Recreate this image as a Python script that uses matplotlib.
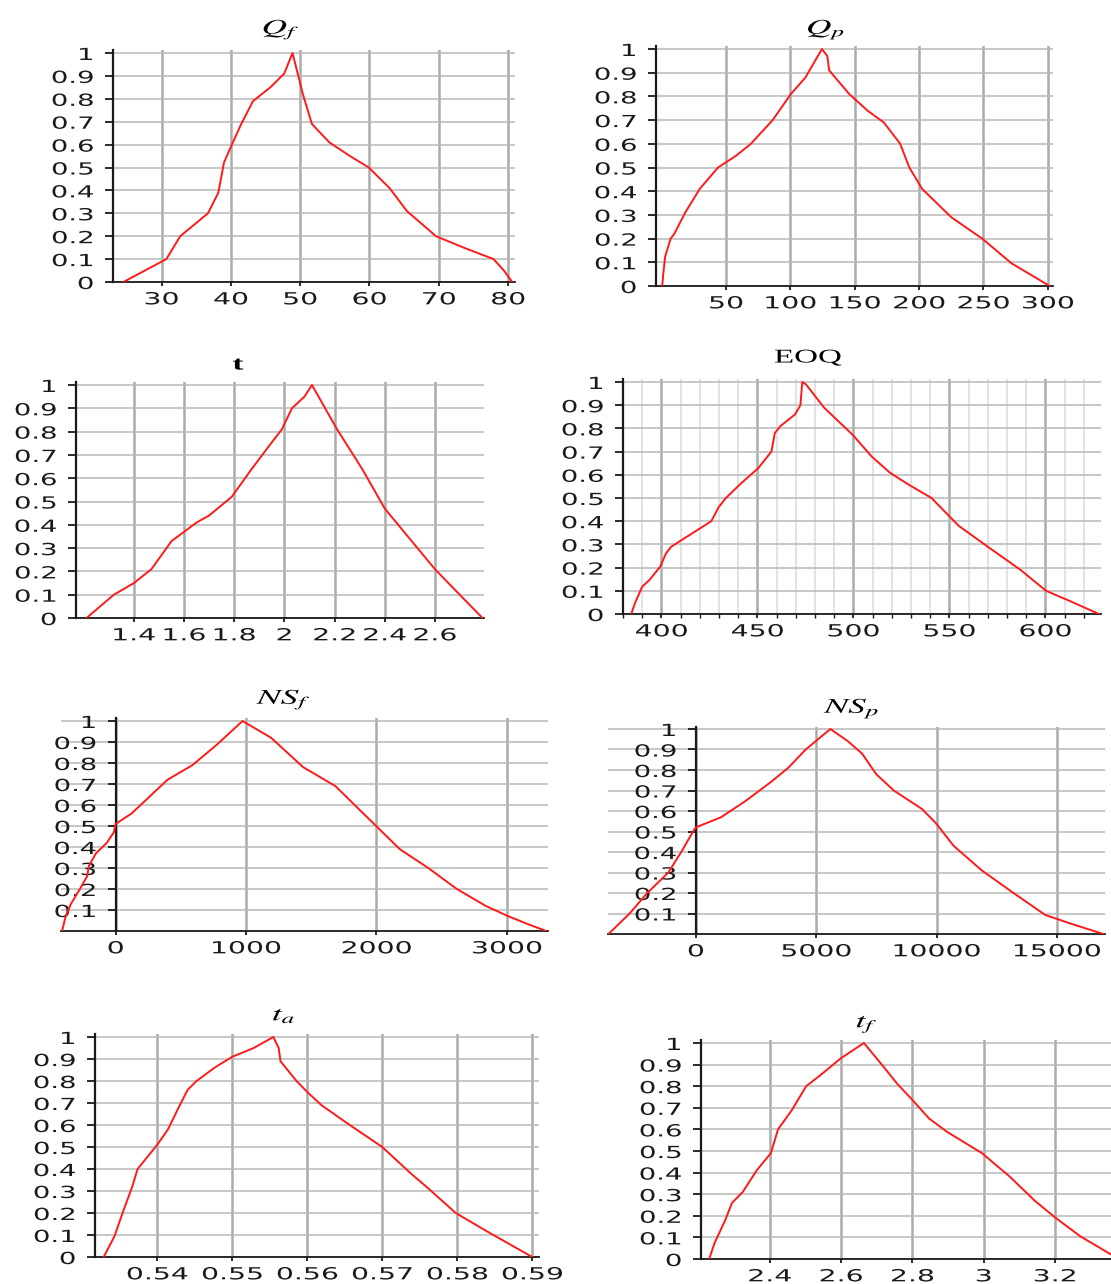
import matplotlib
matplotlib.use("Agg")
import matplotlib.pyplot as plt
from matplotlib.ticker import MultipleLocator
from matplotlib.patheffects import AbstractPathEffect
from matplotlib.transforms import Affine2D

plt.rcParams['font.family'] = ['DejaVu Sans']
plt.rcParams['mathtext.fontset'] = 'stix'

W, H = 1111, 1284

# ---- data (membership curves) ----
qf_x = [24.5, 30.7, 32.7, 36.7, 38.2, 39.0, 40.0, 41.5, 43.2, 45.7, 47.7, 48.9,
        49.9, 50.4, 51.7, 54.2, 57.2, 59.9, 62.9, 65.4, 69.6, 73.6, 77.9, 79.4, 80.6]
qf_y = [0, 0.10, 0.20, 0.30, 0.39, 0.52, 0.59, 0.69, 0.79, 0.85, 0.91, 1.0,
        0.88, 0.82, 0.69, 0.61, 0.55, 0.50, 0.41, 0.31, 0.20, 0.15, 0.10, 0.05, 0]

qp_x = [0.4, 1.3, 2.7, 7.0, 9.8, 18.3, 29.6, 43.8, 57.9, 69.3, 86.2, 100.4, 111.7,
        124.5, 128.7, 130.1, 145.7, 159.9, 172.6, 185.3, 192.4, 202.3, 225.0, 249.0,
        271.7, 301.4]
qp_y = [0, 0.054, 0.124, 0.20, 0.22, 0.31, 0.41, 0.50, 0.55, 0.60, 0.70, 0.81, 0.88,
        1.0, 0.97, 0.91, 0.81, 0.74, 0.69, 0.60, 0.50, 0.41, 0.29, 0.20, 0.096, 0]

t_x = [1.211, 1.32, 1.40, 1.47, 1.55, 1.65, 1.70, 1.79, 1.87, 1.94, 1.99, 2.03,
       2.08, 2.11, 2.21, 2.31, 2.40, 2.50, 2.60, 2.69, 2.79]
t_y = [0, 0.10, 0.15, 0.21, 0.33, 0.41, 0.44, 0.52, 0.64, 0.74, 0.81, 0.90,
       0.95, 1.0, 0.81, 0.64, 0.47, 0.34, 0.21, 0.11, 0]

eoq_x = [384.3, 386.2, 390.0, 393.7, 399.4, 402.3, 405.1, 410.8, 418.4, 426.0, 429.8,
         433.6, 441.1, 450.6, 457.3, 459.1, 462.0, 469.6, 472.4, 473.4, 475.3, 484.7,
         499.9, 509.4, 518.9, 528.3, 540.7, 554.9, 570.0, 587.1, 600.4, 613.6, 627.9]
eoq_y = [0, 0.046, 0.118, 0.146, 0.204, 0.26, 0.29, 0.32, 0.36, 0.40, 0.46,
         0.50, 0.56, 0.63, 0.70, 0.78, 0.81, 0.86, 0.90, 1.0, 0.99, 0.89,
         0.77, 0.68, 0.61, 0.56, 0.50, 0.38, 0.29, 0.19, 0.10, 0.053, 0]

nsf_x = [-411, -384, -342, -274, -219, -205, -151, -68, -14, 0, 123, 260, 397, 589,
         781, 973, 1192, 1438, 1685, 1849, 2014, 2178, 2397, 2616, 2836, 3000, 3164, 3301]
nsf_y = [0, 0.068, 0.13, 0.20, 0.26, 0.31, 0.37, 0.42, 0.47, 0.51, 0.56, 0.64, 0.72, 0.79,
         0.89, 1.0, 0.92, 0.78, 0.69, 0.59, 0.49, 0.39, 0.30, 0.20, 0.12, 0.073, 0.032, 0]

nsp_x = [-3629, -2751, -2019, -1141, -556, -117, 0, 1054, 2078, 3102, 3834, 4565, 5590,
         6322, 6907, 7492, 8224, 9394, 9979, 10711, 11882, 13199, 14516, 15541, 16930]
nsp_y = [0, 0.10, 0.20, 0.30, 0.41, 0.50, 0.52, 0.57, 0.65, 0.74, 0.81, 0.90, 1.0,
         0.94, 0.88, 0.78, 0.70, 0.61, 0.54, 0.43, 0.31, 0.20, 0.093, 0.052, 0]

ta_x = [0.53286, 0.53429, 0.53548, 0.53667, 0.53738, 0.5400, 0.54143, 0.54286, 0.54405,
        0.54524, 0.54762, 0.5500, 0.55286, 0.55548, 0.55619, 0.55643, 0.55857, 0.5600,
        0.56190, 0.56524, 0.5700, 0.5738, 0.5762, 0.5798, 0.5843, 0.5900]
ta_y = [0, 0.094, 0.21, 0.32, 0.40, 0.51, 0.58, 0.68, 0.76,
        0.80, 0.86, 0.91, 0.95, 1.0, 0.95, 0.89, 0.80, 0.75,
        0.69, 0.61, 0.50, 0.38, 0.31, 0.20, 0.11, 0]

tf_x = [2.230, 2.245, 2.275, 2.294, 2.324, 2.363, 2.403, 2.423, 2.462, 2.502, 2.541,
        2.600, 2.664, 2.719, 2.758, 2.798, 2.847, 2.896, 2.995, 3.074, 3.143, 3.202,
        3.271, 3.358]
tf_y = [0, 0.074, 0.18, 0.26, 0.31, 0.41, 0.49, 0.60, 0.69, 0.80, 0.85,
        0.93, 1.0, 0.89, 0.81, 0.74, 0.65, 0.59, 0.49, 0.38, 0.27, 0.19,
        0.105, 0.02]

y_ticks = [0, 0.1, 0.2, 0.3, 0.4, 0.5, 0.6, 0.7, 0.8, 0.9, 1]
y_labels = ['0', '0.1', '0.2', '0.3', '0.4', '0.5', '0.6', '0.7', '0.8', '0.9', '1']


class Stretch(AbstractPathEffect):
    # widen glyphs horizontally, the source picture has wide squat text
    def __init__(self, sx=1.6, anchor='center'):
        super().__init__()
        self.sx = sx
        self.anchor = anchor

    def draw_path(self, renderer, gc, tpath, affine, rgbFace=None):
        ext = tpath.get_extents()
        if self.anchor == 'right':
            cx = ext.x1
        elif self.anchor == 'left':
            cx = ext.x0
        else:
            cx = (ext.x0 + ext.x1) / 2
        tr = Affine2D().translate(-cx, 0).scale(self.sx, 1).translate(cx, 0)
        renderer.draw_path(gc, tpath, tr + affine, rgbFace)


fig = plt.figure(figsize=(W / 100, H / 100), dpi=100)


def panel(box, x, y, xlim, xticks, xlabels, title, title_xy, title_kw,
          yaxis_zero=False, minor=None):
    l, r, t, b = box
    top = t - 0.012 * (b - t)
    ax = fig.add_axes([l / W, 1 - b / H, (r - l) / W, (b - top) / H])
    ax.plot(x, y, color='#ff1a1a', lw=1.4, zorder=3)
    ax.set_xlim(*xlim)
    ax.set_ylim(0, 1.012)

    # move the spine first, it resets the ticks
    if yaxis_zero:
        ax.spines['left'].set_position(('data', 0))

    ax.set_xticks(xticks)
    ax.set_xticklabels(xlabels, fontsize=12, path_effects=[Stretch(1.7, 'center')])
    if yaxis_zero:
        ax.set_yticks(y_ticks[1:])
        ax.set_yticklabels(y_labels[1:], fontsize=12, path_effects=[Stretch(1.65, 'right')])
    else:
        ax.set_yticks(y_ticks)
        ax.set_yticklabels(y_labels, fontsize=12, path_effects=[Stretch(1.65, 'right')])

    for s in ['top', 'right']:
        ax.spines[s].set_visible(False)
    ax.spines['left'].set_linewidth(1.6)
    ax.spines['left'].set_color('#1a1a1a')
    ax.spines['bottom'].set_linewidth(1.3)
    ax.spines['bottom'].set_color('#1a1a1a')

    ax.tick_params(axis='y', direction='out', length=6, width=1.3, pad=8, colors='#1a1a1a')
    ax.tick_params(axis='x', direction='out', length=3, width=1.3, pad=3, colors='#1a1a1a')

    ax.grid(axis='y', color='#b8b8b8', lw=1.1)
    ax.grid(axis='x', which='major', color='#ababab', lw=1.8)
    if minor:
        ax.xaxis.set_minor_locator(MultipleLocator(minor))
        ax.tick_params(axis='x', which='minor', direction='out', length=3, width=1.0,
                       colors='#1a1a1a')
        ax.grid(axis='x', which='minor', color='#dedede', lw=1.2)

    fig.text(title_xy[0] / W, 1 - title_xy[1] / H, title, ha='center', va='center',
             path_effects=[Stretch(1.7, 'center')], **title_kw)
    return ax


math_kw = dict(fontsize=15)
serif_kw = dict(fontsize=14, family='Liberation Serif')

panel((113, 515, 53, 282), qf_x, qf_y, (23.0, 81.0),
      [30, 40, 50, 60, 70, 80], ['30', '40', '50', '60', '70', '80'],
      r'$Q_f$', (281, 30), math_kw)

panel((656, 1053, 49, 286), qp_x, qp_y, (-4.4, 304),
      [50, 100, 150, 200, 250, 300], ['50', '100', '150', '200', '250', '300'],
      r'$Q_p$', (826, 30), math_kw)

panel((76, 484, 385, 618), t_x, t_y, (1.169, 2.796),
      [1.4, 1.6, 1.8, 2.0, 2.2, 2.4, 2.6], ['1.4', '1.6', '1.8', '2', '2.2', '2.4', '2.6'],
      't', (238, 365), dict(fontsize=14, family='Liberation Serif', weight='bold'))

panel((623, 1101, 382, 614), eoq_x, eoq_y, (380, 629),
      [400, 450, 500, 550, 600], ['400', '450', '500', '550', '600'],
      'EOQ', (808, 358), serif_kw, minor=10)

panel((61, 548, 721, 931), nsf_x, nsf_y, (-419, 3315),
      [0, 1000, 2000, 3000], ['0', '1000', '2000', '3000'],
      r'$NS_f$', (284, 700), math_kw, yaxis_zero=True)

panel((608, 1105, 729, 934), nsp_x, nsp_y, (-3650, 17000),
      [0, 5000, 10000, 15000], ['0', '5000', '10000', '15000'],
      r'$NS_p$', (852, 709), math_kw, yaxis_zero=True)

panel((95, 539, 1037, 1257), ta_x, ta_y, (0.5317, 0.5909),
      [0.54, 0.55, 0.56, 0.57, 0.58, 0.59], ['0.54', '0.55', '0.56', '0.57', '0.58', '0.59'],
      r'$t_a$', (284, 1015), math_kw)

panel((701, 1111, 1043, 1259), tf_x, tf_y, (2.207, 3.357),
      [2.4, 2.6, 2.8, 3.0, 3.2], ['2.4', '2.6', '2.8', '3', '3.2'],
      r'$t_f$', (867, 1024), math_kw)

fig.savefig('out.png', dpi=100)
